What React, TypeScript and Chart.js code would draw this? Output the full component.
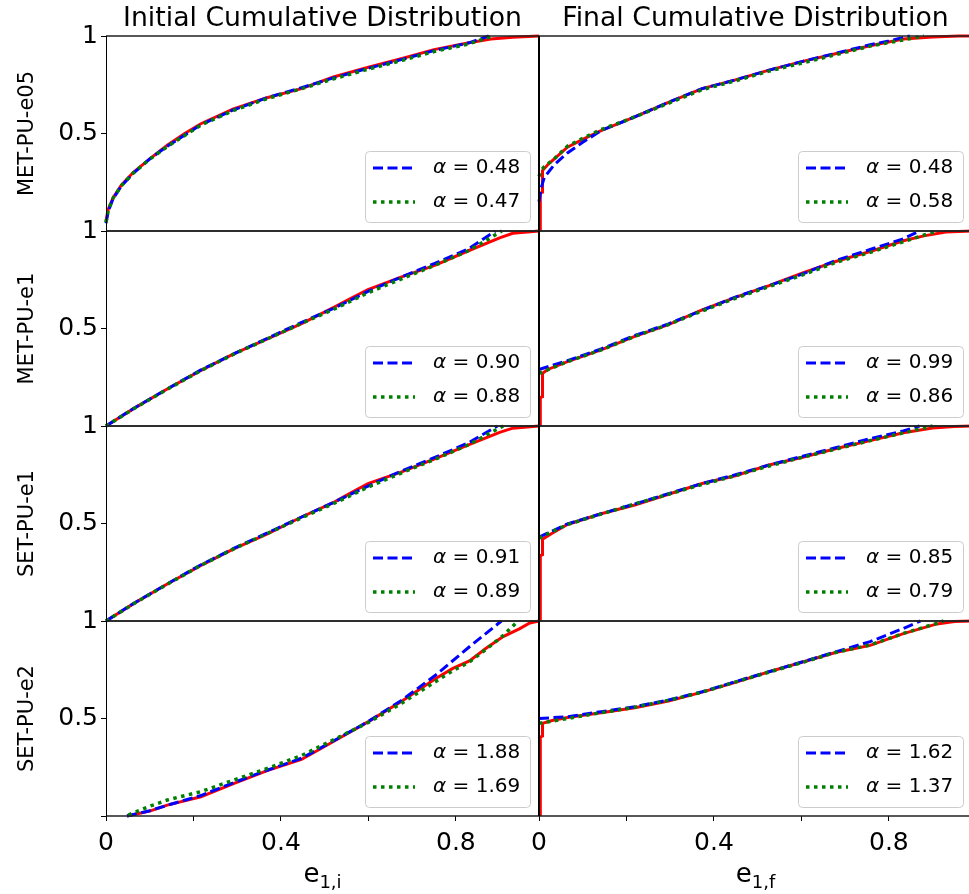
import { useEffect, useRef } from 'react';
import { Chart, registerables } from 'chart.js';

Chart.register(...registerables);

// ---------- categories / labels ----------
const rowLabels = ['MET-PU-e05', 'MET-PU-e1', 'SET-PU-e1', 'SET-PU-e2'];
const colTitles = ['Initial Cumulative Distribution', 'Final Cumulative Distribution'];
const colAxisSub = ['1,i', '1,f'];
const xTickValues = [0, 0.2, 0.4, 0.6, 0.8];
const xTickLabels = ['0', '', '0.4', '', '0.8'];
const yTickValues = [0, 0.5, 1];
const yTickLabels = ['', '0.5', '1'];
const xMax = 0.99;

// fitted exponents [row][col]
const alphaDashed = [[0.48, 0.48], [0.90, 0.99], [0.91, 0.85], [1.88, 1.62]];
const alphaDotted = [[0.47, 0.58], [0.88, 0.86], [0.89, 0.79], [1.69, 1.37]];

// ---------- Initial, MET-PU-e05 ----------
const iniE05Emp = [[0, 0.05], [0.005, 0.11], [0.016, 0.17], [0.035, 0.235], [0.062, 0.3], [0.1, 0.37], [0.14, 0.44], [0.18, 0.5], [0.217, 0.55], [0.29, 0.625], [0.37, 0.685], [0.447, 0.73], [0.52, 0.79], [0.6, 0.84], [0.677, 0.885], [0.75, 0.93], [0.83, 0.965], [0.88, 0.985], [0.93, 0.994], [0.99, 1]];
const iniE05FitA = [[0, 0.04], [0.005, 0.1], [0.016, 0.165], [0.035, 0.23], [0.062, 0.295], [0.1, 0.37], [0.14, 0.435], [0.217, 0.545], [0.29, 0.62], [0.37, 0.685], [0.447, 0.735], [0.52, 0.785], [0.6, 0.835], [0.677, 0.88], [0.75, 0.925], [0.83, 0.965], [0.875, 1]];
const iniE05FitB = [[0, 0.045], [0.005, 0.105], [0.016, 0.168], [0.035, 0.232], [0.062, 0.297], [0.1, 0.368], [0.14, 0.433], [0.217, 0.543], [0.29, 0.617], [0.37, 0.68], [0.447, 0.73], [0.52, 0.78], [0.6, 0.83], [0.677, 0.875], [0.75, 0.92], [0.83, 0.96], [0.885, 1]];

// ---------- Initial, MET-PU-e1 ----------
const iniMe1Emp = [[0, 0], [0.063, 0.089], [0.14, 0.19], [0.215, 0.283], [0.292, 0.37], [0.369, 0.447], [0.446, 0.524], [0.522, 0.61], [0.56, 0.655], [0.599, 0.7], [0.676, 0.765], [0.753, 0.825], [0.83, 0.9], [0.9, 0.965], [0.93, 0.988], [0.97, 0.996], [0.99, 1]];
const iniMe1FitA = [[0, 0], [0.063, 0.09], [0.14, 0.19], [0.215, 0.285], [0.292, 0.37], [0.369, 0.45], [0.446, 0.53], [0.522, 0.605], [0.599, 0.69], [0.676, 0.765], [0.753, 0.835], [0.83, 0.91], [0.89, 1]];
const iniMe1FitB = [[0, 0], [0.063, 0.088], [0.14, 0.188], [0.215, 0.282], [0.292, 0.368], [0.369, 0.447], [0.446, 0.525], [0.522, 0.6], [0.599, 0.683], [0.676, 0.755], [0.753, 0.825], [0.83, 0.9], [0.905, 1]];

// ---------- Initial, SET-PU-e1 ----------
const iniSe1Emp = [[0, 0], [0.063, 0.089], [0.14, 0.19], [0.215, 0.283], [0.292, 0.37], [0.369, 0.447], [0.446, 0.532], [0.522, 0.61], [0.56, 0.657], [0.599, 0.705], [0.676, 0.765], [0.753, 0.833], [0.83, 0.905], [0.9, 0.967], [0.93, 0.989], [0.97, 0.996], [0.99, 1]];
const iniSe1FitA = [[0, 0], [0.063, 0.09], [0.14, 0.19], [0.215, 0.286], [0.292, 0.372], [0.369, 0.452], [0.446, 0.532], [0.522, 0.61], [0.599, 0.692], [0.676, 0.77], [0.753, 0.84], [0.83, 0.915], [0.895, 1]];
const iniSe1FitB = [[0, 0], [0.063, 0.088], [0.14, 0.188], [0.215, 0.283], [0.292, 0.37], [0.369, 0.449], [0.446, 0.528], [0.522, 0.604], [0.599, 0.686], [0.676, 0.76], [0.753, 0.83], [0.83, 0.905], [0.908, 1]];

// ---------- Initial, SET-PU-e2 ----------
const iniSe2Emp = [[0.048, 0], [0.1, 0.025], [0.14, 0.056], [0.217, 0.099], [0.293, 0.167], [0.37, 0.234], [0.447, 0.29], [0.524, 0.387], [0.6, 0.484], [0.677, 0.59], [0.754, 0.705], [0.793, 0.757], [0.831, 0.795], [0.869, 0.86], [0.908, 0.92], [0.945, 0.96], [0.969, 0.99], [0.99, 1]];
const iniSe2FitA = [[0.048, 0], [0.1, 0.027], [0.14, 0.055], [0.217, 0.105], [0.293, 0.172], [0.37, 0.236], [0.447, 0.296], [0.524, 0.39], [0.6, 0.485], [0.677, 0.595], [0.754, 0.723], [0.831, 0.868], [0.904, 1]];
const iniSe2FitB = [[0.051, 0.005], [0.1, 0.05], [0.14, 0.082], [0.217, 0.125], [0.293, 0.185], [0.37, 0.245], [0.447, 0.31], [0.524, 0.395], [0.6, 0.48], [0.677, 0.58], [0.754, 0.69], [0.793, 0.745], [0.831, 0.79], [0.869, 0.855], [0.908, 0.925], [0.942, 1]];

// ---------- Final, MET-PU-e05 ----------
const finE05Emp = [[0.003, 0], [0.003, 0.19], [0.007, 0.2], [0.008, 0.31], [0.02, 0.34], [0.035, 0.37], [0.065, 0.43], [0.1, 0.47], [0.142, 0.515], [0.219, 0.585], [0.296, 0.66], [0.373, 0.73], [0.449, 0.775], [0.526, 0.825], [0.603, 0.87], [0.68, 0.91], [0.757, 0.95], [0.833, 0.985], [0.9, 0.995], [0.96, 1], [0.99, 1]];
const finE05FitA = [[0, 0.15], [0.005, 0.22], [0.012, 0.275], [0.035, 0.34], [0.065, 0.4], [0.1, 0.455], [0.142, 0.515], [0.219, 0.585], [0.296, 0.66], [0.373, 0.73], [0.449, 0.775], [0.526, 0.825], [0.603, 0.87], [0.68, 0.912], [0.757, 0.955], [0.8, 0.975], [0.848, 1]];
const finE05FitB = [[0, 0.28], [0.005, 0.31], [0.012, 0.33], [0.035, 0.37], [0.065, 0.435], [0.1, 0.475], [0.142, 0.52], [0.219, 0.585], [0.296, 0.655], [0.373, 0.725], [0.449, 0.77], [0.526, 0.82], [0.603, 0.862], [0.68, 0.905], [0.757, 0.948], [0.833, 0.98], [0.88, 1]];

// ---------- Final, MET-PU-e1 ----------
const finMe1Emp = [[0.003, 0], [0.003, 0.146], [0.008, 0.15], [0.008, 0.27], [0.02, 0.29], [0.065, 0.33], [0.142, 0.39], [0.219, 0.46], [0.296, 0.52], [0.373, 0.595], [0.449, 0.66], [0.526, 0.72], [0.603, 0.785], [0.68, 0.845], [0.757, 0.895], [0.833, 0.95], [0.88, 0.975], [0.93, 0.995], [0.99, 1]];
const finMe1FitA = [[0, 0.29], [0.065, 0.335], [0.142, 0.395], [0.219, 0.464], [0.296, 0.524], [0.373, 0.593], [0.449, 0.661], [0.526, 0.72], [0.603, 0.78], [0.68, 0.85], [0.757, 0.905], [0.833, 0.96], [0.87, 1]];
const finMe1FitB = [[0, 0.27], [0.065, 0.33], [0.142, 0.39], [0.219, 0.46], [0.296, 0.52], [0.373, 0.59], [0.449, 0.655], [0.526, 0.715], [0.603, 0.775], [0.68, 0.84], [0.757, 0.89], [0.833, 0.945], [0.91, 1]];

// ---------- Final, SET-PU-e1 ----------
const finSe1Emp = [[0.003, 0], [0.003, 0.335], [0.008, 0.34], [0.008, 0.42], [0.03, 0.45], [0.065, 0.495], [0.142, 0.55], [0.219, 0.595], [0.296, 0.65], [0.373, 0.705], [0.449, 0.745], [0.526, 0.8], [0.603, 0.84], [0.68, 0.885], [0.757, 0.925], [0.833, 0.965], [0.9, 0.99], [0.95, 0.998], [0.99, 1]];
const finSe1FitA = [[0, 0.43], [0.065, 0.498], [0.142, 0.55], [0.219, 0.6], [0.296, 0.653], [0.373, 0.705], [0.449, 0.75], [0.526, 0.8], [0.603, 0.845], [0.68, 0.89], [0.757, 0.935], [0.833, 0.975], [0.87, 1]];
const finSe1FitB = [[0, 0.425], [0.065, 0.495], [0.142, 0.548], [0.219, 0.6], [0.296, 0.65], [0.373, 0.7], [0.449, 0.745], [0.526, 0.795], [0.603, 0.84], [0.68, 0.882], [0.757, 0.925], [0.833, 0.965], [0.9, 1]];

// ---------- Final, SET-PU-e2 ----------
const finSe2Emp = [[0.003, 0], [0.003, 0.405], [0.008, 0.41], [0.008, 0.475], [0.03, 0.49], [0.065, 0.505], [0.142, 0.53], [0.219, 0.555], [0.296, 0.59], [0.373, 0.635], [0.449, 0.685], [0.526, 0.74], [0.603, 0.79], [0.68, 0.84], [0.757, 0.875], [0.833, 0.935], [0.91, 0.985], [0.95, 0.997], [0.99, 1]];
const finSe2FitA = [[0, 0.5], [0.065, 0.509], [0.142, 0.535], [0.219, 0.56], [0.296, 0.595], [0.373, 0.637], [0.449, 0.689], [0.526, 0.74], [0.603, 0.791], [0.68, 0.843], [0.757, 0.894], [0.833, 0.962], [0.872, 1]];
const finSe2FitB = [[0, 0.475], [0.065, 0.5], [0.142, 0.53], [0.219, 0.558], [0.296, 0.593], [0.373, 0.635], [0.449, 0.687], [0.526, 0.738], [0.603, 0.788], [0.68, 0.84], [0.757, 0.877], [0.833, 0.936], [0.91, 0.988], [0.925, 1]];

// [row][col] -> [empirical, dashed fit, dotted fit]
const panelSeries = [
  [[iniE05Emp, iniE05FitA, iniE05FitB], [finE05Emp, finE05FitA, finE05FitB]],
  [[iniMe1Emp, iniMe1FitA, iniMe1FitB], [finMe1Emp, finMe1FitA, finMe1FitB]],
  [[iniSe1Emp, iniSe1FitA, iniSe1FitB], [finSe1Emp, finSe1FitA, finSe1FitB]],
  [[iniSe2Emp, iniSe2FitA, iniSe2FitB], [finSe2Emp, finSe2FitA, finSe2FitB]],
];

// ---------- styles ----------
const FONT = '"DejaVu Sans", sans-serif';
const RED = '#ff0000';
const BLUE = '#0000ff';
const GREEN = '#008000';
const DASH = [10, 4.5];
const DOT = [3.5, 4.5];

function labelFor(values: number[], labels: string[], v: number) {
  for (let i = 0; i < values.length; i++) {
    if (Math.abs(values[i] - v) < 1e-6) return labels[i];
  }
  return '';
}

const decorPlugin = {
  id: 'decor',
  afterDatasetsDraw(chart: any) {
    const ctx = chart.ctx as CanvasRenderingContext2D;
    ctx.save();
    // panel frames
    for (let r = 0; r < rowLabels.length; r++) {
      for (let c = 0; c < colTitles.length; c++) {
        const xs = chart.scales['x' + c];
        const ys = chart.scales['y' + r];
        const L = Math.round(xs.left), R = Math.round(xs.right);
        const T = Math.round(ys.top), B = Math.round(ys.bottom);
        ctx.strokeStyle = '#222';
        ctx.lineWidth = 1.6;
        ctx.beginPath();
        ctx.moveTo(L, T); ctx.lineTo(R, T);
        ctx.moveTo(L, B); ctx.lineTo(R, B);
        ctx.stroke();
        ctx.strokeStyle = '#000';
        ctx.lineWidth = 1;
        ctx.beginPath();
        ctx.moveTo(L + 0.5, T); ctx.lineTo(L + 0.5, B);
        ctx.moveTo(R - 0.5, T); ctx.lineTo(R - 0.5, B);
        ctx.stroke();
      }
    }
    // legends
    for (let r = 0; r < rowLabels.length; r++) {
      for (let c = 0; c < colTitles.length; c++) {
        const xs = chart.scales['x' + c];
        const ys = chart.scales['y' + r];
        const w = 165, h = 71;
        const bx = Math.round(xs.right - 9 - w);
        const by = Math.round(ys.bottom - 9 - h);
        ctx.beginPath();
        (ctx as any).roundRect(bx + 0.5, by + 0.5, w, h, 4);
        ctx.fillStyle = 'rgba(255,255,255,0.8)';
        ctx.fill();
        ctx.strokeStyle = '#cccccc';
        ctx.lineWidth = 1;
        ctx.stroke();
        const entries = [
          { color: BLUE, dash: DASH, lw: 3, val: alphaDashed[r][c], dy: 17 },
          { color: GREEN, dash: DOT, lw: 3.5, val: alphaDotted[r][c], dy: 51 },
        ];
        for (const e of entries) {
          const yy = by + e.dy;
          ctx.save();
          ctx.strokeStyle = e.color;
          ctx.lineWidth = e.lw;
          ctx.setLineDash(e.dash);
          ctx.lineCap = 'butt';
          ctx.beginPath();
          ctx.moveTo(bx + 8, yy);
          ctx.lineTo(bx + 50, yy);
          ctx.stroke();
          ctx.restore();
          ctx.fillStyle = '#000';
          ctx.textBaseline = 'middle';
          ctx.textAlign = 'left';
          ctx.font = 'italic 20px ' + FONT;
          const tx = bx + 68;
          ctx.fillText('\u03b1', tx, yy);
          const aw = ctx.measureText('\u03b1').width;
          ctx.font = '20px ' + FONT;
          ctx.fillText(' = ' + e.val.toFixed(2), tx + aw, yy);
        }
      }
    }
    ctx.restore();
  },
  afterDraw(chart: any) {
    const ctx = chart.ctx as CanvasRenderingContext2D;
    ctx.save();
    ctx.fillStyle = '#000';
    for (let c = 0; c < colTitles.length; c++) {
      const xs = chart.scales['x' + c];
      const cx = (xs.left + xs.right) / 2;
      ctx.font = '26.7px ' + FONT;
      ctx.textAlign = 'center';
      ctx.textBaseline = 'alphabetic';
      ctx.fillText(colTitles[c], cx, 26);
      // x axis label e_{1,i}
      ctx.textAlign = 'left';
      ctx.font = '26px ' + FONT;
      const ew = ctx.measureText('e').width;
      ctx.font = '18px ' + FONT;
      const sw = ctx.measureText(colAxisSub[c]).width;
      const sx = cx - (ew + sw) / 2;
      ctx.font = '26px ' + FONT;
      ctx.fillText('e', sx, 882);
      ctx.font = '18px ' + FONT;
      ctx.fillText(colAxisSub[c], sx + ew, 888);
    }
    ctx.restore();
  },
};

export default function App() {
  const canvasRef = useRef<HTMLCanvasElement | null>(null);

  useEffect(() => {
    if (!canvasRef.current) return;
    const datasets: any[] = [];
    for (let r = 0; r < rowLabels.length; r++) {
      for (let c = 0; c < colTitles.length; c++) {
        const [emp, fitA, fitB] = panelSeries[r][c];
        const toXY = (a: number[][]) => a.map(([x, y]) => ({ x, y }));
        const common = { xAxisID: 'x' + c, yAxisID: 'y' + r, showLine: true, pointRadius: 0, tension: 0, fill: false, clip: 2 };
        datasets.push({ ...common, label: 'emp', data: toXY(emp), borderColor: RED, borderWidth: 3, order: 3 });
        datasets.push({ ...common, label: 'fitA', data: toXY(fitA), borderColor: BLUE, borderWidth: 3, borderDash: DASH, order: 2 });
        datasets.push({ ...common, label: 'fitB', data: toXY(fitB), borderColor: GREEN, borderWidth: 3.5, borderDash: DOT, order: 1 });
      }
    }
    const scales: any = {};
    for (let c = 0; c < colTitles.length; c++) {
      scales['x' + c] = {
        type: 'linear',
        position: 'bottom',
        stack: 'cols',
        stackWeight: 1,
        weight: c + 1,
        min: 0,
        max: xMax,
        afterFit: (s: any) => { s.height = 78; s.paddingLeft = 0; s.paddingRight = 0; },
        border: { display: false },
        grid: { drawOnChartArea: false, drawTicks: true, tickLength: 5, color: '#000', tickColor: '#000', tickWidth: 1 },
        ticks: {
          stepSize: 0.2, includeBounds: false, autoSkip: false, maxRotation: 0, minRotation: 0,
          color: '#000', padding: 7, font: { family: FONT, size: 25 },
          callback: (v: number) => labelFor(xTickValues, xTickLabels, v),
        },
      };
    }
    for (let r = 0; r < rowLabels.length; r++) {
      scales['y' + r] = {
        type: 'linear',
        position: 'left',
        stack: 'rows',
        stackWeight: 1,
        weight: rowLabels.length - r,
        min: 0,
        max: 1,
        afterFit: (s: any) => { s.width = 106; s.paddingTop = 0; s.paddingBottom = 0; },
        border: { display: false },
        grid: { drawOnChartArea: false, drawTicks: true, tickLength: 5, color: '#000', tickColor: '#000', tickWidth: 1 },
        ticks: {
          stepSize: 0.5, autoSkip: false, color: '#000', padding: 3, font: { family: FONT, size: 25 },
          callback: (v: number) => labelFor(yTickValues, yTickLabels, v),
        },
        title: { display: true, text: rowLabels[r], color: '#000', font: { family: FONT, size: 21 }, padding: { top: 15, bottom: 0 } },
      };
    }
    const chart = new Chart(canvasRef.current, {
      type: 'scatter',
      data: { datasets },
      options: {
        animation: false,
        responsive: false,
        devicePixelRatio: 1,
        layout: { padding: { top: 36, left: 0, right: 0, bottom: 0 } },
        plugins: { legend: { display: false }, tooltip: { enabled: false }, title: { display: false } },
        events: [],
        scales,
      },
      plugins: [decorPlugin],
    } as any);
    return () => chart.destroy();
  }, []);

  return (
    <div style={{ position: 'absolute', left: 0, top: 0, width: 969, height: 894, overflow: 'hidden', background: '#fff' }}>
      <canvas ref={canvasRef} width={972} height={894} style={{ display: 'block', width: 972, height: 894 }} />
    </div>
  );
}
